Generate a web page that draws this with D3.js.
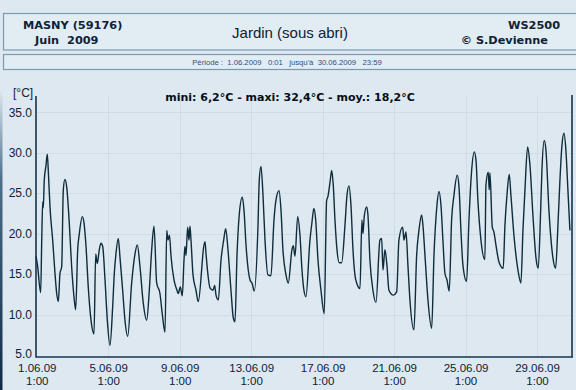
<!DOCTYPE html>
<html>
<head>
<meta charset="utf-8">
<script src="https://cdn.jsdelivr.net/npm/d3@7"></script>
<style>
body { margin: 0; background: #dde8f0; }
svg { display: block; }
</style>
</head>
<body>
<svg id="chart" width="576" height="390"></svg>
<script>
// readings: [hours since 1.06.2009 0:00, temperature °C]
const readings = [
    [0,17.2],[2,16.1],[6.3,12.7],[7.7,19.2],[9,23.9],[9.8,23.2],[11.1,26.6],[13.4,28.4],[15.2,29.8],[16.8,27.2],[18.8,23.3],[22.4,19.2],
    [25.5,15.1],[27.8,12.6],[30,11.6],[32.2,15.1],[34.5,15.9],[36.7,25.4],[38.9,26.7],[41.2,25.8],[44.7,21.3],
    [47.9,15.9],[51,12.2],[53.3,10.6],[56,18.0],[58.2,20.0],[62.2,22.1],[64.5,21.3],[67.2,18.4],[70.2,13.4],
    [73.9,9.3],[77.9,7.6],[80.2,17.5],[82.3,16.3],[85,18.0],[87.3,18.8],[89.6,18.4],[92.7,14.3],
    [95.8,9.3],[99.4,6.2],[103,11.0],[105.2,15.1],[107.4,17.5],[110.5,19.4],[112.8,17.1],[116.4,13.0],
    [119.5,9.3],[123.2,7.3],[128.5,13.9],[133,17.5],[136.1,18.6],[139.7,15.9],
    [144.1,11.4],[148.7,9.3],[152.2,13.0],[155.4,18.0],[158.5,20.9],[162.1,13.9],[166.5,12.6],
    [169.6,10.1],[173.3,7.8],[175.6,20.4],[177.3,19.2],[179.3,19.8],[181.3,17.3],[185.3,14.3],[189.4,13.0],
    [191.1,12.6],[193.8,13.4],[196.5,12.3],[198.8,16.7],[200.1,18.4],[201.5,17.3],[203.7,20.8],[205.5,19.2],[206.8,20.9],[208.2,19.2],[210.9,14.9],
    [214.9,13.0],[218,11.6],[223,16.1],[224.3,17.6],[227,19.0],[228.3,17.6],[231,14.9],[233.7,13.3],
    [237.7,13.0],[240,13.6],[241.8,12.4],[244.9,11.8],[248.5,16.7],[252.1,19.2],[254.8,20.6],[257.9,18.0],[261.9,13.0],
    [265,9.6],[267.3,9.1],[270,17.3],[273,22.3],[277.1,24.5],[279.4,22.9],[282.1,18.6],[285.1,15.5],
    [287.4,14.3],[290.5,13.8],[293.2,12.9],[298.2,21.0],[299.9,26.6],[302.2,28.3],[304.9,24.8],[307.6,19.2],
    [311.6,14.9],[315.6,14.8],[319.7,21.7],[322.3,24.1],[326.4,25.3],[329.1,22.9],[331.7,18.0],
    [335.8,14.9],[338.9,13.9],[343.8,18.0],[345.6,18.5],[347.9,17.2],[351.5,22.1],[354.6,19.8],
    [357.3,15.5],[359.9,13.0],[362.6,12.2],[368,19.2],[370.7,21.4],[373.3,23.1],[375.7,21.7],[378.8,16.7],
    [382.8,13.0],[387.2,10.1],[390.4,24.1],[392.2,24.6],[395.3,26.6],[397.2,27.8],[399.3,26.0],[401.6,21.7],
    [404.3,18.0],[407.4,16.4],[410.6,16.4],[415,21.0],[417.7,24.7],[420.4,25.9],[423.1,23.5],[425.8,18.0],
    [428.4,14.9],[431.1,13.8],[435.2,13.2],[437.8,21.7],[439.2,20.0],[440.9,22.1],[444.2,23.3],[445.9,22.3],[448.6,16.7],
    [452.6,13.0],[456.7,11.5],[462,19.2],[464.3,19.4],[466.1,15.5],[468.7,18.0],[471.4,16.1],[474.1,13.0],
    [479.9,12.4],[484.5,12.8],[487.5,19.2],[492.5,20.8],[494.3,19.2],[497,20.2],[499.6,16.1],[502.3,11.8],
    [507.7,8.1],[511.3,17.3],[514.4,20.4],[518,22.3],[519.8,21.0],[522.5,17.3],[526.5,11.8],
    [531.5,8.3],[534.6,17.3],[538.6,23.5],[541.3,25.2],[544,23.5],[546.6,19.2],[549.3,15.1],
    [552,14.3],[555.1,12.9],[558.3,21.7],[561.4,24.7],[565.8,27.2],[568.1,25.9],[570.8,20.4],[573.5,16.1],
    [578.4,14.1],[581.6,21.7],[585.2,27.8],[588.7,30.1],[591,29.1],[593.6,24.1],[597.7,19.2],
    [603,16.8],[604.4,26.0],[607.5,27.6],[608.8,25.4],[609.8,27.5],[612.9,20.8],[615.1,20.2],[617.8,18.6],[621.9,16.5],
    [627.6,15.7],[629.9,21.0],[632.6,24.7],[635.7,27.3],[638,24.7],[642,19.8],
    [647.4,15.5],[651.4,13.9],[654.1,20.4],[656.8,25.4],[660.4,30.7],[663.5,28.5],[667.5,22.3],
    [671.6,17.0],[674.6,15.7],[677.9,22.9],[679.6,27.8],[682.7,31.5],[685,30.3],[689,22.9],
    [694.4,17.0],[698,15.7],[701.1,21.0],[703.8,26.6],[706.5,30.9],[709.2,32.4],[711.8,30.3],[714.5,25.4],[717.2,20.4]
];

const yTicks = [5, 10, 15, 20, 25, 30, 35];
const xTickHours = [1, 97, 193, 289, 385, 481, 577, 673];
const xTickDates = ["1.06.09", "5.06.09", "9.06.09", "13.06.09", "17.06.09", "21.06.09", "25.06.09", "29.06.09"];
const xTickTimes = ["1:00", "1:00", "1:00", "1:00", "1:00", "1:00", "1:00", "1:00"];

const station = ["MASNY (59176)", "Juin  2009"];
const sensor = "Jardin (sous abri)";
const owner = ["WS2500", "© S.Devienne"];
const period = "Période :  1.06.2009   0:01   jusqu'à  30.06.2009   23:59";
const stats = "mini: 6,2°C - maxi: 32,4°C - moy.: 18,2°C";

const ink = "#0e2236";
const bold = "'DejaVu Sans', Verdana, sans-serif";
const plain = "'Liberation Sans', Arial, sans-serif";

const svg = d3.select("#chart");

// left edge shading of the screenshot
const grad = svg.append("defs").append("linearGradient")
    .attr("id", "edge").attr("x1", 0).attr("y1", 0).attr("x2", 0).attr("y2", 1);
grad.append("stop").attr("offset", "0%").attr("stop-color", "#dde8f0");
grad.append("stop").attr("offset", "30%").attr("stop-color", "#4d6f8a");
grad.append("stop").attr("offset", "100%").attr("stop-color", "#0f2a44");
svg.append("rect").attr("x", 0).attr("y", 90).attr("width", 2.5).attr("height", 300)
    .attr("fill", "url(#edge)");

// header boxes
const header = svg.append("g");
header.append("rect")
    .attr("x", 3.5).attr("y", 13.5).attr("width", 575).attr("height", 36.5)
    .attr("fill", "#e2ecf3").attr("stroke", "#7d9aae").attr("stroke-width", 1.2);
header.append("rect")
    .attr("x", 3.5).attr("y", 54.5).attr("width", 575).attr("height", 15)
    .attr("fill", "#e2ecf3").attr("stroke", "#7d9aae").attr("stroke-width", 1.2);

header.selectAll("text.station")
    .data(station).enter()
    .append("text").attr("class", "station")
        .attr("x", (d, i) => i === 0 ? 23 : 35)
        .attr("y", (d, i) => i === 0 ? 29 : 44)
        .attr("font-family", bold).attr("font-weight", "bold").attr("font-size", 11.3)
        .attr("fill", ink).style("white-space", "pre")
        .text(d => d);
header.append("text")
    .attr("x", 290).attr("y", 38).attr("text-anchor", "middle")
    .attr("font-family", plain).attr("font-size", 15).attr("fill", ink)
    .text(sensor);
header.selectAll("text.owner")
    .data(owner).enter()
    .append("text").attr("class", "owner")
        .attr("x", (d, i) => i === 0 ? 560 : 548)
        .attr("y", (d, i) => i === 0 ? 29 : 44)
        .attr("text-anchor", "end")
        .attr("font-family", bold).attr("font-weight", "bold").attr("font-size", 11.3)
        .attr("fill", ink)
        .text(d => d);
header.append("text")
    .attr("x", 287).attr("y", 65).attr("text-anchor", "middle")
    .attr("font-family", plain).attr("font-size", 7.7).attr("fill", "#2c4f86")
    .style("white-space", "pre")
    .text(period);

// plot
const plot = {left: 36, right: 572, top: 96, bottom: 357};

const x = d3.scaleLinear()
    .domain([0, 720])
    .range([plot.left, plot.right]);
const y = d3.scaleLinear()
    .domain([5, 37])
    .range([355, plot.top]);

const grid = svg.append("g").attr("stroke", "#cfdde8").attr("stroke-width", 1);
grid.selectAll("line.h")
    .data(yTicks.slice(1)).enter()
    .append("line").attr("class", "h")
        .attr("x1", plot.left).attr("x2", plot.right)
        .attr("y1", d => Math.round(y(d)) + 0.5).attr("y2", d => Math.round(y(d)) + 0.5);
grid.selectAll("line.v")
    .data(xTickHours.slice(1)).enter()
    .append("line").attr("class", "v")
        .attr("x1", d => Math.round(x(d)) + 0.5).attr("x2", d => Math.round(x(d)) + 0.5)
        .attr("y1", plot.top).attr("y2", plot.bottom);

const axisY = d3.axisLeft(y)
    .tickValues(yTicks)
    .tickFormat(d3.format(".1f"))
    .tickSize(0)
    .tickPadding(4);
svg.append("g")
    .attr("transform", `translate(${plot.left},0)`)
    .call(axisY)
    .call(g => g.select(".domain").remove())
    .call(g => g.selectAll("text")
        .attr("font-family", plain).attr("font-size", 12).attr("fill", ink))
    .call(g => g.selectAll(".tick").filter(d => d === 5).select("text").attr("dy", "0.2em"));

const axisX = d3.axisBottom(x)
    .tickValues(xTickHours)
    .tickFormat("")
    .tickSize(0);
const xAxis = svg.append("g")
    .attr("transform", `translate(0,${plot.bottom})`)
    .call(axisX)
    .call(g => g.select(".domain").remove());
xAxis.selectAll(".tick").append("text")
    .attr("y", 15)
    .attr("text-anchor", "middle")
    .attr("font-family", plain).attr("font-size", 11.5).attr("fill", ink)
    .text((d, i) => xTickDates[i]);
xAxis.selectAll(".tick").append("text")
    .attr("y", 28)
    .attr("text-anchor", "middle")
    .attr("font-family", plain).attr("font-size", 11.5).attr("fill", ink)
    .text((d, i) => xTickTimes[i]);

svg.append("path")
    .attr("d", `M${plot.left},${plot.top}V${plot.bottom}H${plot.right + 1}M${plot.right},${plot.bottom}V${plot.top - 1}`)
    .attr("fill", "none").attr("stroke", "#17344d").attr("stroke-width", 1.6);

svg.append("text")
    .attr("x", 13).attr("y", 97)
    .attr("font-family", plain).attr("font-size", 12).attr("fill", ink)
    .text("[°C]");

svg.append("text")
    .attr("x", 290).attr("y", 101).attr("text-anchor", "middle")
    .attr("font-family", bold).attr("font-weight", "bold").attr("font-size", 11).attr("fill", "#050d18")
    .text(stats);

const line = d3.line()
    .curve(d3.curveMonotoneX)
    .x(d => x(d[0]))
    .y(d => y(d[1]));
svg.append("path")
    .datum(readings)
    .attr("d", line)
    .attr("fill", "none")
    .attr("stroke", "#0f2c3c")
    .attr("stroke-width", 1.4)
    .attr("stroke-linejoin", "round");
</script>
</body>
</html>
